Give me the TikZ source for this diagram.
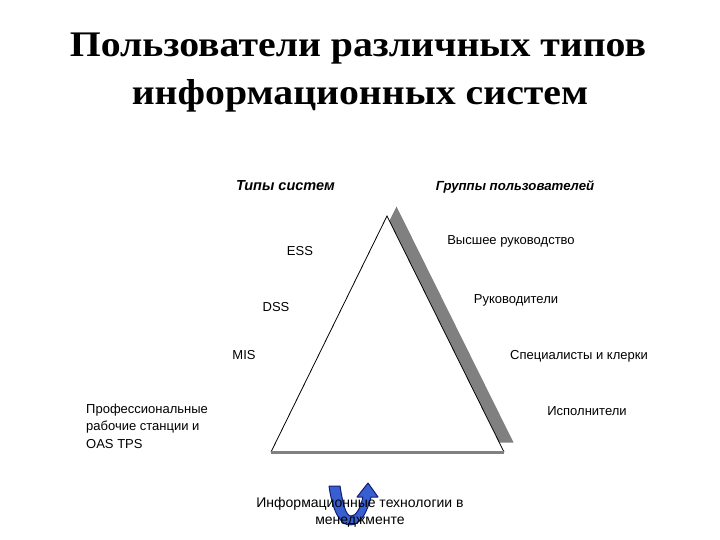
\documentclass[tikz,border=0pt]{standalone}
\usepackage{fontspec}
\setmainfont{Liberation Serif}
\newfontfamily\arialf{Liberation Sans}
\begin{document}
\begin{tikzpicture}[x=1pt,y=-1pt,
  lbl/.style={font=\arialf\fontsize{13}{15}\selectfont, inner sep=0pt, anchor=base},
  hdr/.style={font=\arialf\bfseries\itshape\fontsize{13}{15}\selectfont, inner sep=0pt, anchor=base},
  ttl/.style={font=\bfseries\fontsize{36}{48}\selectfont, inner sep=0pt, anchor=base},
  shadowc/.style={fill={rgb,255:red,128;green,128;blue,128}},
  arrowc/.style={fill={rgb,255:red,55;green,95;blue,210}, draw={rgb,255:red,20;green,30;blue,110}, line width=1pt, line join=round}
]
\useasboundingbox (0,0) rectangle (720,540);
% title
\node[ttl] (t1) at (358,57) {\scalebox{1.105}[1]{Пользователи различных типов}};
\node[ttl] (t2) at (360,105) {\scalebox{1.105}[1]{информационных систем}};
% triangle
\coordinate (ap) at (387,216);
\coordinate (bl) at (271,452);
\coordinate (br) at (504,452);
\fill[shadowc] ([shift={(9.5,-9.5)}]ap) -- ([shift={(9.5,-9.5)}]br) -- ([shift={(9.5,-9.5)}]bl) -- cycle;
\fill[white] (ap) -- (br) -- (bl) -- cycle;
\draw[line width=0.8pt] (bl) -- (ap) -- (br);
\draw[line width=3pt, draw={rgb,255:red,128;green,128;blue,128}] (bl) -- (br);
% headers
\node[hdr, font=\arialf\bfseries\itshape\fontsize{14.5}{16}\selectfont] (h1) at (285.5,191) {Типы систем};
\node[hdr, font=\arialf\bfseries\itshape\fontsize{13.2}{16}\selectfont] (h2) at (515,191) {Группы пользователей};
% left labels
\node[lbl] (ess) at (300,255) {ESS};
\node[lbl] (dss) at (276,311) {DSS};
\node[lbl] (mis) at (244,359) {MIS};
\node[lbl, anchor=base west, align=left, font=\arialf\fontsize{13}{17.5}\selectfont] (pro) at (86,448) {Профессиональные\\рабочие станции и\\OAS TPS};
% right labels
\node[lbl] (top) at (511,244) {Высшее руководство};
\node[lbl] (man) at (516,303) {Руководители};
\node[lbl] (spe) at (579,359) {Специалисты и клерки};
\node[lbl] (exe) at (587,415) {Исполнители};
% U-turn arrow
\path[arrowc] (329,486) .. controls (332,508) and (339,525) .. (350,525)
  .. controls (361,525) and (367,512) .. (371,497) -- (378,497) -- (368,483) -- (357,497) -- (363,497)
  .. controls (360,509) and (356,516) .. (351,516)
  .. controls (346,516) and (343,505) .. (340,486) -- cycle;
% bottom text
\node[lbl, align=center, font=\arialf\fontsize{14}{17}\selectfont] (it) at (360,524) {Информационные технологии в\\менеджменте};
\end{tikzpicture}
\end{document}
